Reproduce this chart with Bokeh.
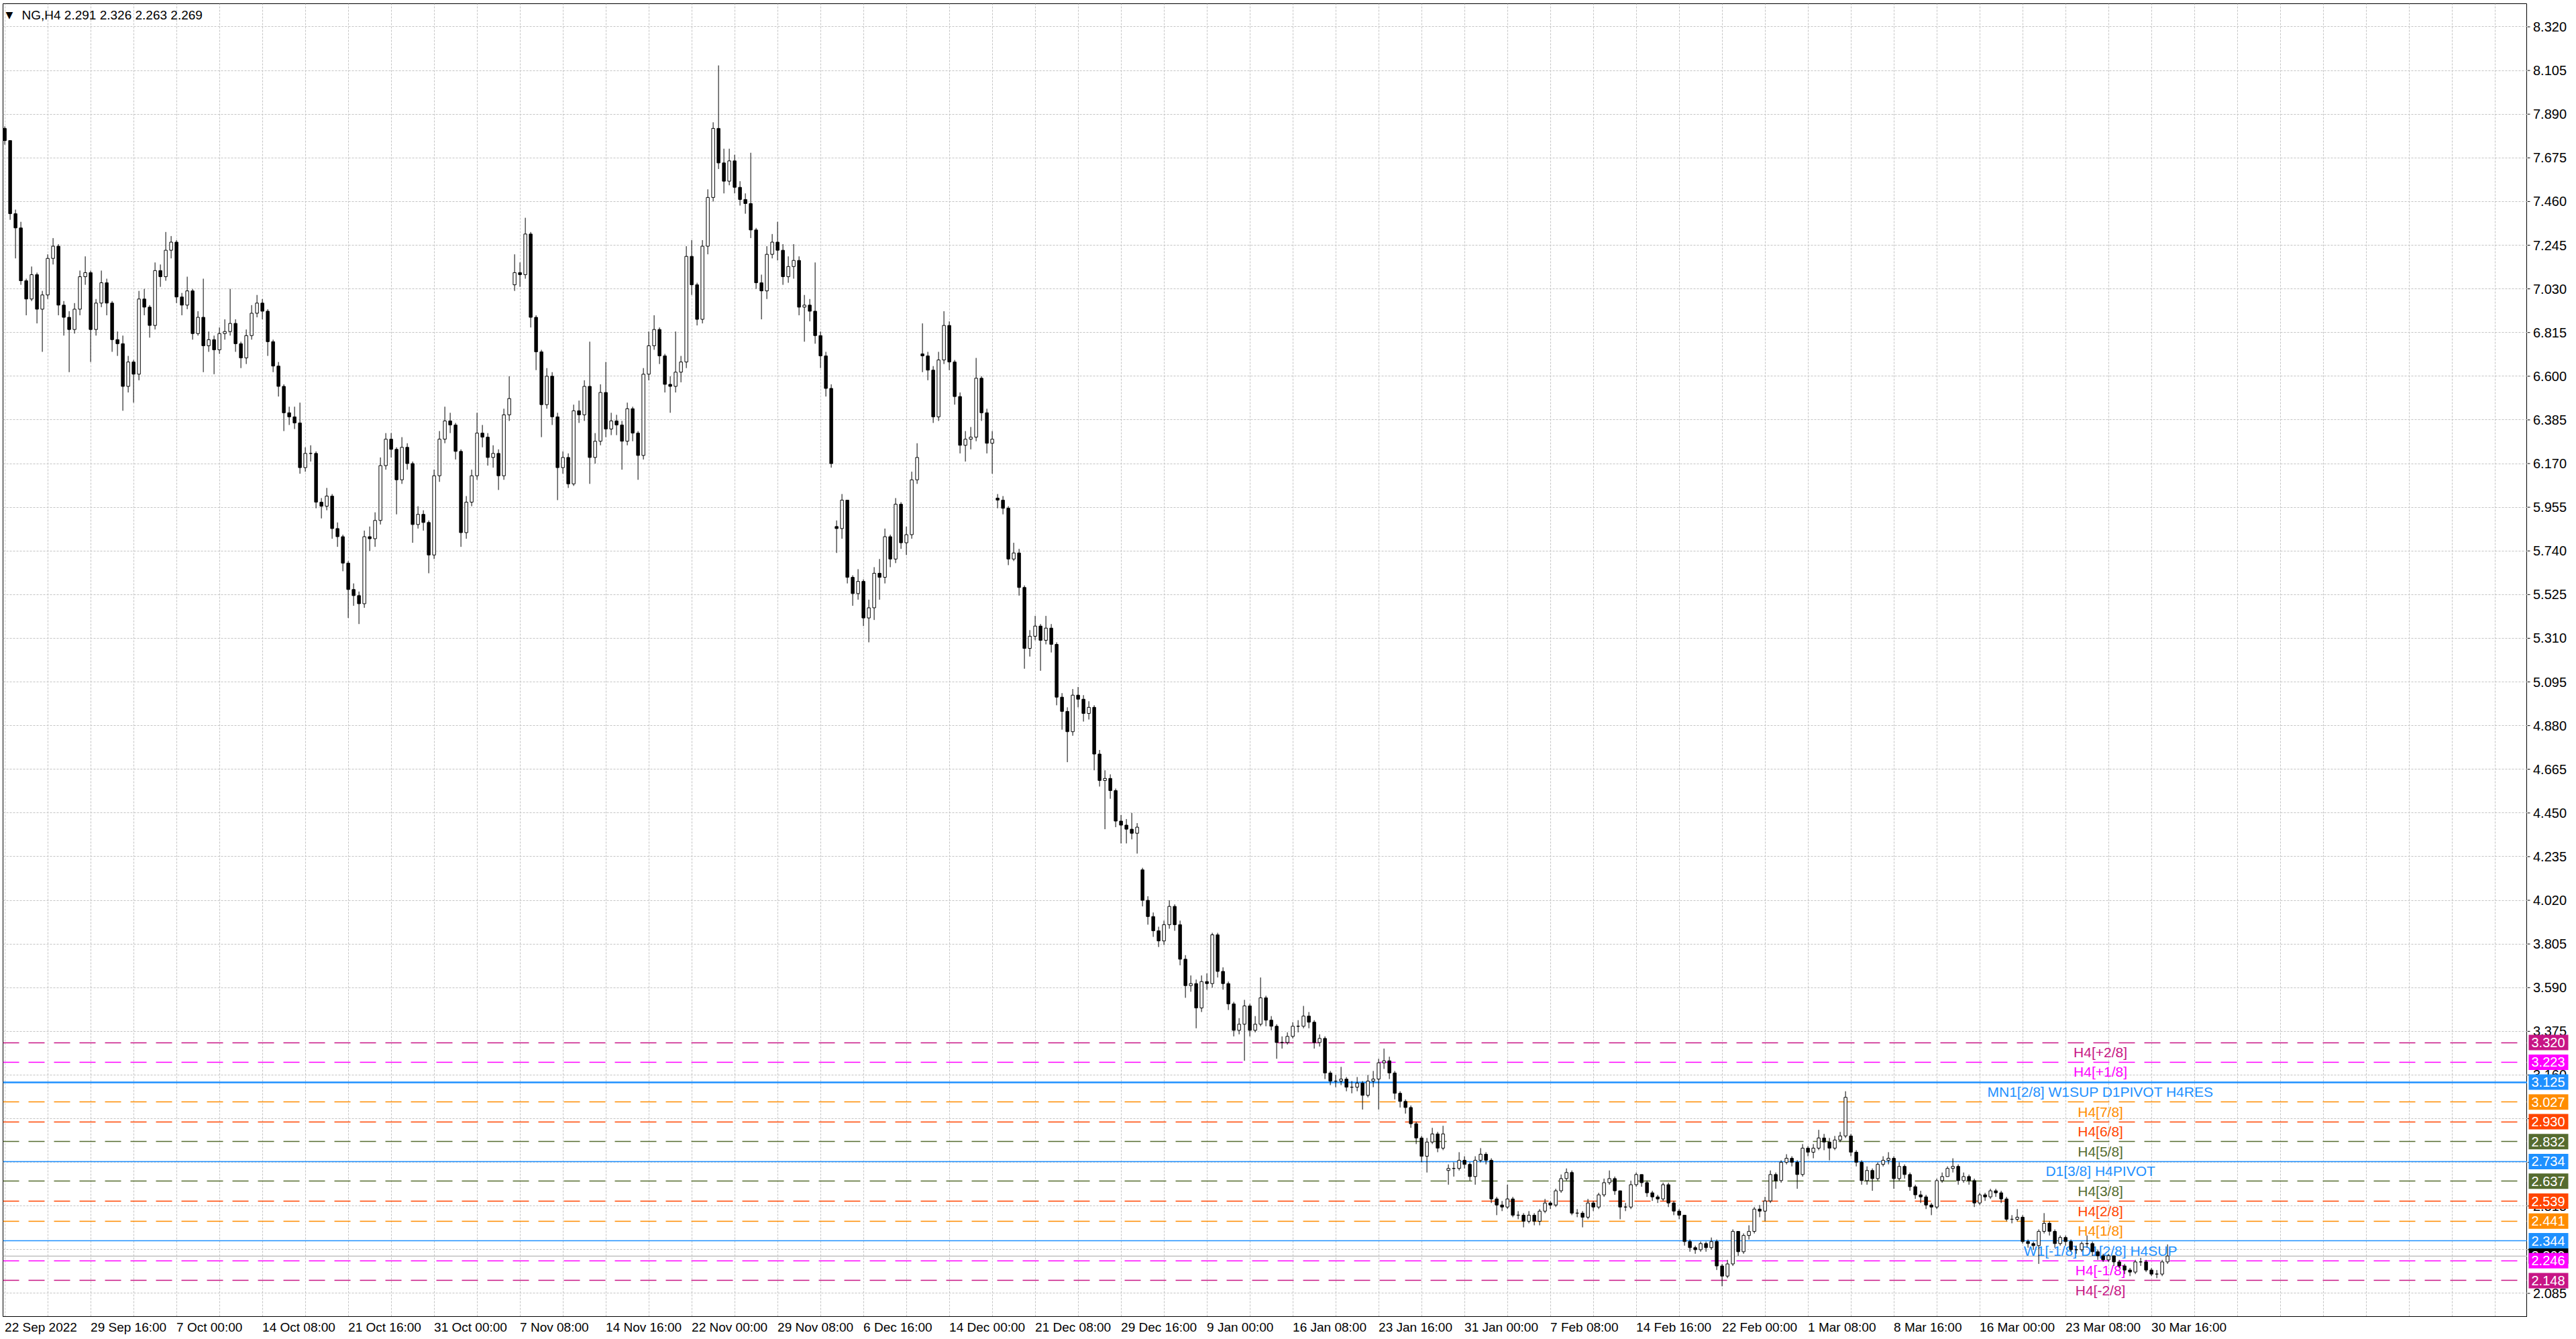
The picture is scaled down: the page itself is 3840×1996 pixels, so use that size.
from bokeh.plotting import figure
from bokeh.layouts import row
from bokeh.models import ColumnDataSource, FixedTicker, Label, Range1d
from bokeh.core.properties import value
from bokeh.embed import file_html
from bokeh.resources import INLINE

# ---------------- data ----------------
SYMBOL = "NG,H4"
LAST_OHLC = [2.291, 2.326, 2.263, 2.269]
FIRST_OPEN = 7.82
BARS_PER_CANDLE = 2       # each candle below spans two H4 bars
BARS_PER_LABEL = 32
BARS_PER_GRID = 16

CLOSE = [
    7.76, 7.40, 7.33, 7.07, 6.98, 7.10, 6.93, 7.00, 7.18, 7.24,
    6.95, 6.89, 6.83, 6.93, 7.09, 7.11, 6.83, 6.96, 7.06, 6.96,
    6.78, 6.76, 6.55, 6.67, 6.61, 6.98, 6.94, 6.85, 7.12, 7.09,
    7.22, 7.26, 6.99, 6.95, 7.02, 6.81, 6.89, 6.75, 6.78, 6.73,
    6.81, 6.82, 6.86, 6.76, 6.69, 6.80, 6.91, 6.96, 6.92, 6.77,
    6.65, 6.55, 6.42, 6.40, 6.37, 6.15, 6.22, 6.22, 5.98, 5.96,
    6.01, 5.85, 5.81, 5.68, 5.55, 5.52, 5.48, 5.81, 5.80, 5.89,
    6.16, 6.29, 6.24, 6.09, 6.25, 6.17, 5.87, 5.92, 5.88, 5.72,
    6.11, 6.29, 6.38, 6.36, 6.23, 5.83, 5.98, 6.11, 6.32, 6.30,
    6.20, 6.22, 6.11, 6.41, 6.49, 7.11, 7.10, 7.30, 6.89, 6.72,
    6.46, 6.60, 6.40, 6.15, 6.20, 6.07, 6.43, 6.41, 6.55, 6.20,
    6.28, 6.52, 6.34, 6.38, 6.36, 6.28, 6.44, 6.32, 6.21, 6.61,
    6.75, 6.83, 6.70, 6.56, 6.55, 6.62, 6.67, 7.19, 7.05, 6.88,
    7.24, 7.48, 7.82, 7.65, 7.56, 7.66, 7.53, 7.47, 7.45, 7.32,
    7.06, 7.02, 7.20, 7.26, 7.22, 7.09, 7.14, 7.17, 6.94, 6.95,
    6.92, 6.80, 6.70, 6.54, 6.17, 5.85, 5.99, 5.61, 5.53, 5.59,
    5.41, 5.46, 5.63, 5.61, 5.81, 5.70, 5.97, 5.78, 5.82, 6.09,
    6.20, 6.70, 6.63, 6.40, 6.68, 6.85, 6.67, 6.50, 6.26, 6.29,
    6.30, 6.59, 6.42, 6.27, 6.29, 5.99, 5.95, 5.70, 5.73, 5.56,
    5.26, 5.32, 5.37, 5.30, 5.36, 5.28, 5.02, 4.95, 4.85, 5.03,
    5.01, 4.94, 4.97, 4.74, 4.61, 4.62, 4.56, 4.41, 4.39, 4.37,
    4.35, 4.38, 4.02, 3.94, 3.87, 3.82, 3.90, 3.99, 3.90, 3.73,
    3.60, 3.61, 3.49, 3.62, 3.61, 3.85, 3.67, 3.61, 3.51, 3.38,
    3.41, 3.50, 3.38, 3.41, 3.54, 3.43, 3.40, 3.32, 3.32, 3.35,
    3.40, 3.40, 3.45, 3.42, 3.32, 3.34, 3.17, 3.13, 3.13, 3.14,
    3.10, 3.10, 3.12, 3.06, 3.13, 3.14, 3.22, 3.23, 3.17, 3.07,
    3.03, 3.00, 2.92, 2.85, 2.76, 2.83, 2.87, 2.80, 2.87, 2.70,
    2.70, 2.74, 2.72, 2.66, 2.74, 2.77, 2.74, 2.55, 2.52, 2.51,
    2.55, 2.47, 2.47, 2.44, 2.47, 2.44, 2.49, 2.53, 2.52, 2.59,
    2.65, 2.68, 2.48, 2.48, 2.46, 2.53, 2.51, 2.57, 2.63, 2.65,
    2.59, 2.51, 2.51, 2.62, 2.67, 2.63, 2.58, 2.56, 2.55, 2.62,
    2.53, 2.49, 2.47, 2.34, 2.31, 2.30, 2.33, 2.31, 2.34, 2.22,
    2.17, 2.23, 2.39, 2.29, 2.37, 2.39, 2.50, 2.49, 2.54, 2.67,
    2.64, 2.73, 2.75, 2.73, 2.67, 2.80, 2.78, 2.80, 2.85, 2.83,
    2.80, 2.84, 2.86, 3.05, 2.78, 2.73, 2.64, 2.69, 2.65, 2.72,
    2.74, 2.75, 2.65, 2.71, 2.67, 2.61, 2.57, 2.56, 2.52, 2.51,
    2.64, 2.66, 2.70, 2.71, 2.64, 2.66, 2.64, 2.53, 2.57, 2.56,
    2.59, 2.58, 2.55, 2.45, 2.45, 2.46, 2.34, 2.33, 2.32, 2.39,
    2.43, 2.39, 2.33, 2.36, 2.34, 2.30, 2.30, 2.33, 2.33, 2.29,
    2.27, 2.25, 2.27, 2.24, 2.22, 2.20, 2.19, 2.24, 2.24, 2.20,
    2.18, 2.18, 2.24, 2.269,
]

HIGH = [
    7.83, 7.76, 7.42, 7.36, 7.08, 7.14, 7.11, 7.02, 7.20, 7.28,
    7.25, 6.97, 6.92, 6.96, 7.12, 7.19, 7.12, 6.98, 7.12, 7.08,
    6.97, 6.82, 6.80, 6.70, 6.68, 7.02, 7.03, 6.95, 7.16, 7.15,
    7.31, 7.29, 7.27, 7.01, 7.09, 7.03, 6.92, 7.08, 6.82, 6.80,
    6.84, 6.88, 7.03, 6.88, 6.77, 6.83, 6.95, 7.00, 6.98, 6.93,
    6.78, 6.67, 6.56, 6.45, 6.45, 6.47, 6.25, 6.26, 6.23, 6.00,
    6.05, 6.02, 5.88, 5.82, 5.69, 5.58, 5.54, 5.84, 5.86, 5.93,
    6.20, 6.32, 6.32, 6.25, 6.30, 6.27, 6.18, 5.96, 5.94, 5.89,
    6.14, 6.33, 6.45, 6.42, 6.37, 6.24, 6.01, 6.14, 6.42, 6.36,
    6.32, 6.26, 6.24, 6.44, 6.60, 7.20, 7.16, 7.38, 7.31, 6.90,
    6.73, 6.64, 6.62, 6.42, 6.23, 6.22, 6.46, 6.48, 6.58, 6.77,
    6.32, 6.56, 6.67, 6.42, 6.41, 6.38, 6.47, 6.45, 6.33, 6.64,
    6.82, 6.90, 6.84, 6.71, 6.60, 6.82, 6.70, 7.24, 7.27, 7.06,
    7.27, 7.52, 7.85, 8.13, 7.72, 7.72, 7.69, 7.56, 7.50, 7.70,
    7.33, 7.10, 7.24, 7.30, 7.36, 7.25, 7.19, 7.25, 7.19, 7.00,
    6.98, 7.16, 6.82, 6.72, 6.56, 5.89, 6.02, 5.99, 5.62, 5.65,
    5.60, 5.50, 5.66, 5.70, 5.85, 5.82, 6.00, 5.98, 5.86, 6.13,
    6.27, 6.86, 6.72, 6.65, 6.72, 6.92, 6.87, 6.68, 6.52, 6.33,
    6.35, 6.69, 6.60, 6.44, 6.33, 6.02, 6.01, 5.96, 5.78, 5.75,
    5.57, 5.35, 5.42, 5.38, 5.42, 5.38, 5.29, 5.04, 4.97, 5.06,
    5.07, 5.03, 5.00, 4.98, 4.76, 4.66, 4.64, 4.57, 4.44, 4.42,
    4.45, 4.40, 4.18, 4.04, 3.96, 3.89, 3.92, 4.02, 4.00, 3.92,
    3.75, 3.65, 3.63, 3.65, 3.66, 3.86, 3.86, 3.69, 3.62, 3.52,
    3.44, 3.53, 3.51, 3.45, 3.64, 3.55, 3.45, 3.41, 3.35, 3.37,
    3.42, 3.43, 3.50, 3.47, 3.43, 3.36, 3.35, 3.18, 3.16, 3.20,
    3.15, 3.13, 3.15, 3.13, 3.16, 3.18, 3.24, 3.29, 3.25, 3.18,
    3.08, 3.04, 3.01, 2.93, 2.86, 2.85, 2.90, 2.88, 2.91, 2.72,
    2.73, 2.78, 2.76, 2.73, 2.76, 2.80, 2.78, 2.75, 2.56, 2.54,
    2.62, 2.56, 2.49, 2.48, 2.49, 2.48, 2.50, 2.55, 2.54, 2.60,
    2.67, 2.70, 2.69, 2.50, 2.49, 2.55, 2.54, 2.58, 2.65, 2.69,
    2.66, 2.59, 2.53, 2.64, 2.68, 2.67, 2.64, 2.59, 2.57, 2.63,
    2.63, 2.54, 2.50, 2.47, 2.35, 2.32, 2.34, 2.34, 2.36, 2.35,
    2.23, 2.25, 2.40, 2.39, 2.38, 2.42, 2.51, 2.52, 2.56, 2.69,
    2.68, 2.74, 2.77, 2.76, 2.74, 2.82, 2.81, 2.82, 2.89, 2.87,
    2.85, 2.86, 2.88, 3.08, 2.87, 2.79, 2.74, 2.71, 2.70, 2.73,
    2.76, 2.78, 2.76, 2.73, 2.72, 2.68, 2.62, 2.59, 2.57, 2.53,
    2.65, 2.68, 2.71, 2.75, 2.72, 2.68, 2.67, 2.65, 2.58, 2.58,
    2.60, 2.60, 2.59, 2.56, 2.47, 2.50, 2.47, 2.35, 2.34, 2.40,
    2.48, 2.44, 2.40, 2.37, 2.37, 2.35, 2.32, 2.34, 2.37, 2.34,
    2.30, 2.28, 2.28, 2.27, 2.25, 2.23, 2.21, 2.25, 2.26, 2.25,
    2.21, 2.20, 2.25, 2.326,
]

LOW = [
    7.74, 7.37, 7.18, 7.05, 6.90, 6.97, 6.86, 6.72, 6.98, 7.15,
    6.90, 6.80, 6.62, 6.81, 6.90, 7.05, 6.67, 6.80, 6.94, 6.90,
    6.72, 6.70, 6.43, 6.52, 6.47, 6.58, 6.90, 6.79, 6.83, 7.04,
    7.07, 7.18, 6.96, 6.90, 6.93, 6.78, 6.80, 6.62, 6.72, 6.61,
    6.71, 6.78, 6.80, 6.72, 6.64, 6.66, 6.78, 6.89, 6.88, 6.70,
    6.62, 6.50, 6.33, 6.36, 6.34, 6.12, 6.13, 6.18, 5.95, 5.90,
    5.94, 5.80, 5.76, 5.64, 5.41, 5.47, 5.38, 5.46, 5.74, 5.76,
    5.87, 6.14, 6.20, 5.92, 6.07, 6.14, 5.78, 5.85, 5.84, 5.63,
    5.70, 6.08, 6.27, 6.32, 6.19, 5.76, 5.80, 5.96, 6.09, 6.25,
    6.16, 6.15, 6.04, 6.09, 6.38, 7.02, 7.04, 7.08, 6.84, 6.63,
    6.30, 6.44, 6.36, 5.99, 6.12, 6.05, 6.06, 6.37, 6.38, 6.07,
    6.17, 6.26, 6.30, 6.31, 6.31, 6.14, 6.26, 6.28, 6.09, 6.19,
    6.58, 6.73, 6.66, 6.52, 6.42, 6.52, 6.57, 6.64, 7.00, 6.85,
    6.86, 7.20, 7.46, 7.62, 7.50, 7.54, 7.50, 7.44, 7.40, 7.28,
    7.03, 6.88, 6.98, 7.18, 7.17, 7.05, 7.06, 7.08, 6.90, 6.77,
    6.87, 6.76, 6.64, 6.50, 6.15, 5.73, 5.80, 5.58, 5.47, 5.50,
    5.37, 5.29, 5.40, 5.50, 5.58, 5.66, 5.68, 5.75, 5.72, 5.80,
    6.07, 6.62, 6.58, 6.37, 6.38, 6.66, 6.63, 6.46, 6.22, 6.18,
    6.24, 6.28, 6.38, 6.22, 6.12, 5.95, 5.92, 5.67, 5.69, 5.52,
    5.16, 5.22, 5.30, 5.15, 5.28, 5.24, 4.98, 4.86, 4.70, 4.83,
    4.97, 4.90, 4.91, 4.66, 4.58, 4.37, 4.52, 4.38, 4.30, 4.30,
    4.32, 4.25, 3.99, 3.90, 3.84, 3.79, 3.80, 3.88, 3.87, 3.70,
    3.54, 3.57, 3.39, 3.47, 3.58, 3.59, 3.64, 3.58, 3.48, 3.35,
    3.36, 3.23, 3.35, 3.37, 3.40, 3.40, 3.38, 3.24, 3.29, 3.31,
    3.34, 3.37, 3.39, 3.39, 3.29, 3.30, 3.14, 3.11, 3.10, 3.11,
    3.08, 3.07, 3.08, 2.99, 3.05, 3.10, 2.99, 3.19, 3.14, 3.04,
    3.00, 2.97, 2.90, 2.82, 2.73, 2.68, 2.82, 2.78, 2.79, 2.62,
    2.66, 2.69, 2.70, 2.64, 2.62, 2.73, 2.72, 2.53, 2.47, 2.49,
    2.50, 2.46, 2.45, 2.41, 2.43, 2.42, 2.42, 2.48, 2.50, 2.51,
    2.58, 2.64, 2.47, 2.46, 2.41, 2.45, 2.49, 2.50, 2.56, 2.62,
    2.57, 2.45, 2.49, 2.50, 2.61, 2.61, 2.56, 2.54, 2.53, 2.54,
    2.51, 2.47, 2.45, 2.32, 2.29, 2.28, 2.29, 2.29, 2.30, 2.20,
    2.12, 2.16, 2.22, 2.27, 2.28, 2.35, 2.38, 2.46, 2.44, 2.53,
    2.60, 2.63, 2.72, 2.71, 2.60, 2.66, 2.76, 2.75, 2.79, 2.79,
    2.74, 2.79, 2.83, 2.85, 2.76, 2.71, 2.62, 2.62, 2.59, 2.64,
    2.71, 2.72, 2.60, 2.64, 2.65, 2.59, 2.55, 2.53, 2.50, 2.47,
    2.50, 2.63, 2.66, 2.68, 2.62, 2.63, 2.62, 2.51, 2.52, 2.54,
    2.55, 2.56, 2.53, 2.44, 2.43, 2.44, 2.33, 2.31, 2.30, 2.23,
    2.38, 2.37, 2.31, 2.32, 2.32, 2.29, 2.28, 2.29, 2.31, 2.27,
    2.25, 2.24, 2.24, 2.22, 2.21, 2.18, 2.17, 2.18, 2.22, 2.19,
    2.17, 2.16, 2.17, 2.23,
]

# opens that do not equal the previous close (session gaps)
GAP_OPEN = {95: 7.05, 155: 5.86, 171: 6.71, 185: 6.00, 212: 4.17, 269: 2.69, 344: 2.86}

DATE_LABELS = ["22 Sep 2022", "29 Sep 16:00", "7 Oct 00:00", "14 Oct 08:00", "21 Oct 16:00",
               "31 Oct 00:00", "7 Nov 08:00", "14 Nov 16:00", "22 Nov 00:00", "29 Nov 08:00",
               "6 Dec 16:00", "14 Dec 00:00", "21 Dec 08:00", "29 Dec 16:00", "9 Jan 00:00",
               "16 Jan 08:00", "23 Jan 16:00", "31 Jan 00:00", "7 Feb 08:00", "14 Feb 16:00",
               "22 Feb 00:00", "1 Mar 08:00", "8 Mar 16:00", "16 Mar 00:00", "23 Mar 08:00",
               "30 Mar 16:00"]

PRICE_TICKS = [8.320, 8.105, 7.890, 7.675, 7.460, 7.245, 7.030, 6.815, 6.600, 6.385,
               6.170, 5.955, 5.740, 5.525, 5.310, 5.095, 4.880, 4.665, 4.450, 4.235,
               4.020, 3.805, 3.590, 3.375, 3.160, 2.945, 2.730, 2.515, 2.300, 2.085]

LEVEL_PRICES = [3.320, 3.223, 3.125, 3.027, 2.930, 2.832, 2.734, 2.637, 2.539, 2.441,
                2.344, 2.246, 2.148]
LEVEL_NAMES = ["H4[+2/8]", "H4[+1/8]", "MN1[2/8] W1SUP D1PIVOT H4RES", "H4[7/8]", "H4[6/8]",
               "H4[5/8]", "D1[3/8] H4PIVOT", "H4[3/8]", "H4[2/8]", "H4[1/8]",
               "W1[-1/8] D1[2/8] H4SUP", "H4[-1/8]", "H4[-2/8]"]

# ---------------- styles / layout ----------------
LEVEL_COLORS = ["#C71585", "#FF00FF", "#1E90FF", "#FF8C00", "#FF4500", "#556B2F", "#1E90FF",
                "#556B2F", "#FF4500", "#FF8C00", "#1E90FF", "#FF00FF", "#C71585"]
LEVEL_KIND = ["dash", "dash", "thick", "dash", "dash", "dash", "solid", "dash", "dash", "dash",
              "solid", "dash", "dash"]
LABEL_BAR = 781
FONT = "Liberation Sans"
W, H = 3840, 1996
BORDER_L, BORDER_T, BORDER_B = 4, 5, 34
MAIN_W = 3767
SCALE_W = W - MAIN_W
FRAME_W, FRAME_H = MAIN_W - BORDER_L, H - BORDER_T - BORDER_B
PX_PER_BAR = 4.0
X_START = -0.65
GRID_COLOR = "#c4c4c4"
DATE_FONT_PX = 19
AXIS_FONT_PX = 20

# Arial-like advance widths (em) used to left-align the date labels on their ticks
CHAR_EM = {" ": 0.278, ":": 0.278, "S": 0.667, "e": 0.556, "p": 0.556, "O": 0.778, "c": 0.5,
           "t": 0.278, "N": 0.722, "o": 0.556, "v": 0.5, "D": 0.722, "J": 0.5, "a": 0.556,
           "n": 0.556, "F": 0.611, "b": 0.556, "M": 0.833, "r": 0.333}


def text_px(s, size):
    return sum(CHAR_EM.get(ch, 0.556) for ch in s) * size


# ---------------- derived table ----------------
n = len(CLOSE)
opens = []
for i in range(n):
    if i == 0:
        opens.append(FIRST_OPEN)
    elif i in GAP_OPEN:
        opens.append(GAP_OPEN[i])
    else:
        opens.append(CLOSE[i - 1])
xs = [i * BARS_PER_CANDLE for i in range(n)]
tops = [max(o, c) for o, c in zip(opens, CLOSE)]
bots = [min(o, c) for o, c in zip(opens, CLOSE)]
fills = ["white" if c >= o else "black" for o, c in zip(opens, CLOSE)]
src = ColumnDataSource(dict(x=xs, high=HIGH[:n], low=LOW[:n], top=tops, bottom=bots, fill=fills))

y_range = Range1d(1.971, 8.4339)
p = figure(width=MAIN_W, height=H, output_backend="svg", toolbar_location=None, tools="",
           x_range=Range1d(X_START, X_START + FRAME_W / PX_PER_BAR), y_range=y_range,
           y_axis_location=None, min_border_left=BORDER_L, min_border_top=BORDER_T,
           min_border_right=0, min_border_bottom=BORDER_B)
p.background_fill_color = "white"
p.border_fill_color = "white"
p.outline_line_color = "black"
p.outline_line_width = 1

# bottom time axis: labels start at their tick (MT4 style)
label_ticks = [k * BARS_PER_LABEL for k in range(len(DATE_LABELS))]
centers = [round(t + text_px(s, DATE_FONT_PX) / 2 / PX_PER_BAR, 3)
           for t, s in zip(label_ticks, DATE_LABELS)]
p.xaxis.ticker = FixedTicker(ticks=centers)
p.xaxis.major_label_overrides = {c: s for c, s in zip(centers, DATE_LABELS)}
p.xaxis.major_label_text_font = FONT
p.xaxis.major_label_text_font_size = f"{DATE_FONT_PX}px"
p.xaxis.major_label_text_color = "black"
p.xaxis.major_tick_line_color = None
p.xaxis.major_tick_out = 0
p.xaxis.major_tick_in = 0
p.xaxis.minor_tick_line_color = None
p.xaxis.major_label_standoff = 5
p.xaxis.axis_line_color = "black"

# grid
p.xgrid.ticker = FixedTicker(ticks=list(range(0, 940, BARS_PER_GRID)))
p.ygrid.ticker = FixedTicker(ticks=PRICE_TICKS)
for g in (p.xgrid, p.ygrid):
    g.grid_line_color = GRID_COLOR
    g.grid_line_dash = "3 2"
    g.grid_line_width = 1


# level lines
def lvl_src(kind):
    idx = [i for i, k in enumerate(LEVEL_KIND) if k == kind]
    return ColumnDataSource(dict(y=[LEVEL_PRICES[i] for i in idx],
                                 color=[LEVEL_COLORS[i] for i in idx]))


p.hspan(y="y", line_color="color", line_width=1.3, line_dash="24 14", source=lvl_src("dash"))
p.hspan(y="y", line_color="color", line_width=1.3, source=lvl_src("solid"))
p.hspan(y="y", line_color="color", line_width=2.6, source=lvl_src("thick"))
p.hspan(y=[LAST_OHLC[3]], line_color="#c0c0c0", line_width=1.3)

lvl_text = ColumnDataSource(dict(x=[LABEL_BAR] * len(LEVEL_PRICES), y=LEVEL_PRICES,
                                 text=LEVEL_NAMES, color=LEVEL_COLORS))
p.text(x="x", y="y", text="text", text_color="color", source=lvl_text,
       text_font=value(FONT), text_font_size=value("21px"), text_align="center",
       text_baseline="top", y_offset=3)

# candles
p.segment(x0="x", y0="low", x1="x", y1="high", line_color="black", line_width=1, source=src)
p.vbar(x="x", width=1.1, top="top", bottom="bottom", fill_color="fill",
       line_color="black", line_width=1, source=src)

# header
p.add_layout(Label(x=4, y=FRAME_H - 16, x_units="screen", y_units="screen", text="\u25BC",
                   text_font="DejaVu Sans", text_font_size="14px", text_color="black",
                   text_baseline="middle", text_align="left"))
header = SYMBOL + "  " + " ".join(f"{v:.3f}" for v in LAST_OHLC)
p.add_layout(Label(x=28, y=FRAME_H - 17, x_units="screen", y_units="screen", text=header,
                   text_font=FONT, text_font_size="19px", text_color="black",
                   text_baseline="middle", text_align="left"))

# ---------------- right price scale ----------------
side = figure(width=SCALE_W, height=H, output_backend="svg", toolbar_location=None, tools="",
              x_range=Range1d(0, SCALE_W), y_range=y_range,
              x_axis_location=None, y_axis_location=None, min_border_left=0,
              min_border_right=0, min_border_top=BORDER_T, min_border_bottom=BORDER_B)
side.grid.visible = False
side.outline_line_color = None
side.background_fill_color = "white"
side.border_fill_color = "white"

tick_src = ColumnDataSource(dict(y=PRICE_TICKS, text=[f"{t:.3f}" for t in PRICE_TICKS]))
side.segment(x0=0, x1=4, y0="y", y1="y", line_color="black", line_width=1, source=tick_src)
side.text(x=8.5, y="y", text="text", source=tick_src, text_font=value(FONT),
          text_font_size=value(f"{AXIS_FONT_PX}px"), text_color="black",
          text_align="left", text_baseline="middle")


def price_boxes(prices, colors):
    bsrc = ColumnDataSource(dict(y=prices, color=colors, text=[f"{v:.3f}" for v in prices]))
    side.rect(x=31.5, y="y", width=59, height=23, height_units="screen", fill_color="color",
              line_color=None, source=bsrc)
    side.text(x=6, y="y", text="text", source=bsrc, text_font=value(FONT),
              text_font_size=value(f"{AXIS_FONT_PX}px"), text_color="white",
              text_align="left", text_baseline="middle")


# current price first, the level boxes are drawn over it
price_boxes([LAST_OHLC[3]], ["black"])
price_boxes(LEVEL_PRICES, LEVEL_COLORS)

layout = row(p, side, spacing=0)
open("out.html", "w").write(file_html(layout, INLINE))
